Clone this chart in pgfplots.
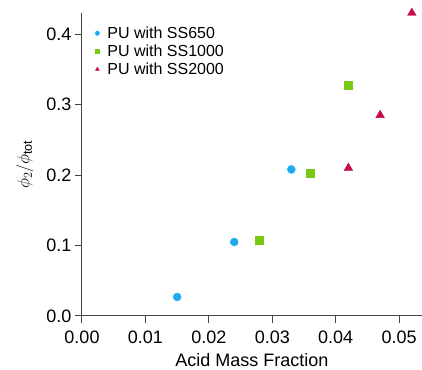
\documentclass[border=0pt]{standalone}
\usepackage{fontspec}
\setmainfont{Liberation Sans}
\usepackage{pgfplots}
\pgfplotsset{compat=1.18}
\definecolor{cblue}{RGB}{30,170,240}
\definecolor{cgreen}{RGB}{120,200,20}
\definecolor{cred}{RGB}{200,10,80}
\definecolor{axgray}{RGB}{70,70,70}
\begin{document}
\begin{tikzpicture}
\begin{axis}[name=ax,
  scale only axis, width=340pt, height=303pt,
  xmin=0, xmax=0.0536, ymin=0, ymax=0.43,
  axis x line*=bottom, axis y line*=left,
  axis line style={axgray, line width=1pt},
  tick style={axgray, line width=1pt},
  tick align=outside, major tick length=7pt,
  xtick={0,0.01,0.02,0.03,0.04,0.05},
  ytick={0,0.1,0.2,0.3,0.4},
  scaled x ticks=false, scaled y ticks=false,
  xticklabel style={yshift=-4pt, /pgf/number format/.cd, fixed, fixed zerofill, precision=2},
  yticklabel style={/pgf/number format/.cd, fixed, fixed zerofill, precision=1},
  /pgf/number format/assume math mode=true,
  ticklabel style={font=\fontsize{18}{20}\selectfont},
  label style={font=\fontsize{18}{20}\selectfont},
  xlabel={Acid Mass Fraction},
  ylabel={$\phi_2/\phi_{\mathrm{tot}}$},
  xlabel style={at={(0.5,0)}, anchor=north, yshift=-34pt},
  ylabel style={at={(0,0.5)}, anchor=south, yshift=45pt},
  clip=false,
  legend style={draw=none, fill=none, at={(0.038,0.97)}, anchor=north west,
    font=\fontsize{16}{18}\selectfont, row sep=0pt, inner xsep=0pt,
    nodes={text height=13.5pt, text depth=3.5pt, inner ysep=0.5pt}},
  legend cell align=left,
  legend image code/.code={\path[draw=none, fill=none] (0,0) -- (0.36cm,0); \draw[#1, mark size=2.2pt] plot coordinates {(0.08cm,0cm)};},
]
\addplot[only marks, mark=*, mark size=4pt, color=cblue, mark options={draw=cblue, fill=cblue}]
  coordinates {(0.015,0.027) (0.024,0.105) (0.033,0.208)};
\addlegendentry{PU with SS650}
\addplot[only marks, mark=square*, mark size=4pt, color=cgreen, mark options={draw=cgreen, fill=cgreen}]
  coordinates {(0.028,0.108) (0.036,0.203) (0.042,0.328)};
\addlegendentry{PU with SS1000}
\addplot[only marks, mark=triangle*, mark size=5pt, color=cred, mark options={draw=cred, fill=cred}]
  coordinates {(0.042,0.210) (0.047,0.285) (0.052,0.430)};
\addlegendentry{PU with SS2000}
\end{axis}
\pgfresetboundingbox
\path ([shift={(-82pt,-54pt)}]ax.south west) rectangle ([shift={(0pt,13pt)}]ax.north east);
\end{tikzpicture}
\end{document}
